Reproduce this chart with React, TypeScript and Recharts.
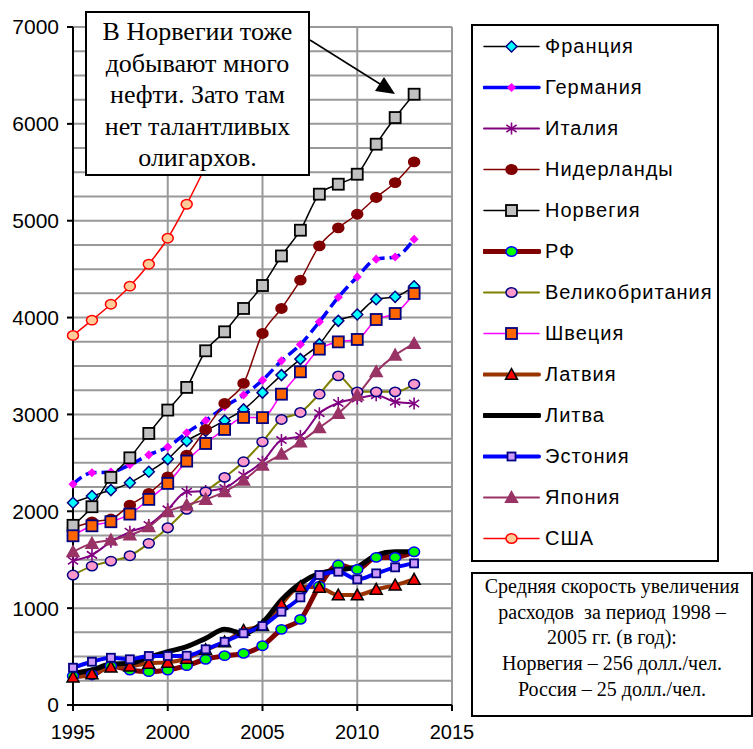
import React from 'react'
import { CartesianGrid, Line, LineChart, XAxis, YAxis } from 'recharts'

const years = [1995, 1996, 1997, 1998, 1999, 2000, 2001, 2002, 2003, 2004, 2005, 2006, 2007, 2008, 2009, 2010, 2011, 2012, 2013]

const france = [2088, 2157, 2219, 2294, 2408, 2539, 2725, 2830, 2936, 3052, 3225, 3406, 3571, 3726, 3966, 4032, 4190, 4214, 4324]
const germany = [2280, 2398, 2405, 2480, 2583, 2663, 2811, 2936, 3080, 3200, 3354, 3553, 3722, 3956, 4210, 4420, 4603, 4626, 4809]
const italy = [1490, 1550, 1685, 1788, 1858, 2020, 2201, 2210, 2240, 2373, 2511, 2735, 2778, 3013, 3118, 3165, 3199, 3130, 3113]
const netherlands = [1830, 1890, 1920, 2064, 2185, 2356, 2580, 2845, 3113, 3320, 3836, 4094, 4386, 4740, 4926, 5067, 5240, 5394, 5607]
const norway = [1855, 2047, 2350, 2552, 2804, 3045, 3279, 3657, 3853, 4094, 4331, 4636, 4902, 5274, 5377, 5480, 5790, 6065, 6306]
const rf = [299, 310, 402, 361, 344, 361, 406, 472, 509, 533, 612, 781, 884, 1228, 1445, 1400, 1524, 1524, 1582]
const uk = [1342, 1434, 1486, 1541, 1669, 1830, 2020, 2201, 2350, 2511, 2717, 2948, 3020, 3209, 3398, 3233, 3233, 3233, 3313]
const sweden = [1747, 1850, 1892, 1971, 2123, 2288, 2518, 2700, 2845, 2969, 2967, 3209, 3440, 3674, 3749, 3774, 3980, 4042, 4249]
const latvia = [288, 320, 390, 400, 430, 440, 480, 570, 650, 770, 820, 1040, 1221, 1214, 1135, 1135, 1194, 1238, 1297]
const lithuania = [327, 361, 423, 430, 492, 550, 602, 688, 781, 740, 850, 1084, 1256, 1359, 1393, 1428, 1548, 1582, 1582]
const estonia = [385, 447, 488, 472, 506, 506, 509, 575, 653, 740, 815, 963, 1111, 1342, 1376, 1297, 1359, 1421, 1462]
const japan = [1582, 1669, 1703, 1755, 1840, 1995, 2064, 2123, 2201, 2320, 2475, 2590, 2717, 2862, 3010, 3199, 3440, 3612, 3732]
const usa = [3815, 3973, 4138, 4324, 4551, 4819, 5170, 5560, 5950, 6300, 6650, 7040, 7400, null, null, null, null, null, null]

const yTicks = [0, 1000, 2000, 3000, 4000, 5000, 6000, 7000]
const xTicks = [1995, 2000, 2005, 2010, 2015]
const gridValues = [250, 500, 750, 1000, 1250, 1500, 1750, 2000, 2250, 2500, 2750, 3000, 3250, 3500, 3750, 4000, 4250, 4500, 4750, 5000, 5250, 5500, 5750, 6000, 6250, 6500, 6750, 7000]

const noteTop = ['В Норвегии тоже', 'добывают много', 'нефти. Зато там', 'нет талантливых', 'олигархов.']
const noteBottom = ['Средняя скорость увеличения', 'расходов  за период 1998 –', '2005 гг. (в год):', 'Норвегия – 256 долл./чел.', 'Россия – 25 долл./чел.']

type Shape = 'diamond' | 'square' | 'circle' | 'triangle' | 'star' | 'none'

interface Series {
  key: string
  name: string
  values: (number | null)[]
  color: string
  width: number
  dash?: string
  shape: Shape
  fill: string
  edge: string
  size: number
}

const series: Series[] = [
  { key: 'france', name: 'Франция', values: france, color: '#000000', width: 1.5, shape: 'diamond', fill: '#00FFFF', edge: '#000080', size: 5.5 },
  { key: 'germany', name: 'Германия', values: germany, color: '#0000FF', width: 3.5, dash: '11 5', shape: 'diamond', fill: '#FF00FF', edge: '#FF00FF', size: 3.5 },
  { key: 'italy', name: 'Италия', values: italy, color: '#800080', width: 2, shape: 'star', fill: '#800080', edge: '#800080', size: 6 },
  { key: 'netherlands', name: 'Нидерланды', values: netherlands, color: '#800000', width: 1.5, shape: 'circle', fill: '#800000', edge: '#800000', size: 5.5 },
  { key: 'norway', name: 'Норвегия', values: norway, color: '#000000', width: 1.5, shape: 'square', fill: '#C0C0C0', edge: '#000000', size: 5.5 },
  { key: 'rf', name: 'РФ', values: rf, color: '#800000', width: 5, shape: 'circle', fill: '#00FF00', edge: '#0000FF', size: 5.5 },
  { key: 'uk', name: 'Великобритания', values: uk, color: '#808000', width: 2, shape: 'circle', fill: '#FF99CC', edge: '#000080', size: 5.5 },
  { key: 'sweden', name: 'Швеция', values: sweden, color: '#FF00FF', width: 1.5, shape: 'square', fill: '#FF6600', edge: '#000080', size: 5.5 },
  { key: 'latvia', name: 'Латвия', values: latvia, color: '#993300', width: 4, shape: 'triangle', fill: '#FF0000', edge: '#000000', size: 6 },
  { key: 'lithuania', name: 'Литва', values: lithuania, color: '#000000', width: 5, shape: 'none', fill: 'none', edge: 'none', size: 0 },
  { key: 'estonia', name: 'Эстония', values: estonia, color: '#0000FF', width: 4, shape: 'square', fill: '#CC99FF', edge: '#000080', size: 4 },
  { key: 'japan', name: 'Япония', values: japan, color: '#993366', width: 2, shape: 'triangle', fill: '#993366', edge: '#993366', size: 6 },
  { key: 'usa', name: 'США', values: usa, color: '#FF0000', width: 1.5, shape: 'circle', fill: '#FFCC99', edge: '#FF0000', size: 5.5 },
]

const data = years.map((year, i) => {
  const row: Record<string, number | null> = { year }
  series.forEach((s) => {
    row[s.key] = s.values[i]
  })
  return row
})

const Marker = ({ s, x, y }: { s: Series; x: number; y: number }) => {
  const r = s.size
  switch (s.shape) {
    case 'diamond':
      return <polygon points={`${x},${y - r} ${x + r},${y} ${x},${y + r} ${x - r},${y}`} fill={s.fill} stroke={s.edge} strokeWidth={1.5} />
    case 'square':
      return <rect x={x - r} y={y - r} width={r * 2} height={r * 2} fill={s.fill} stroke={s.edge} strokeWidth={1.8} />
    case 'circle':
      return <ellipse cx={x} cy={y} rx={r} ry={r * 0.85} fill={s.fill} stroke={s.edge} strokeWidth={1.5} />
    case 'triangle':
      return <polygon points={`${x},${y - r} ${x + r},${y + r * 0.8} ${x - r},${y + r * 0.8}`} fill={s.fill} stroke={s.edge} strokeWidth={1.5} />
    case 'star':
      return (
        <path
          d={`M${x},${y - r}L${x},${y + r}M${x - r * 0.85},${y - r * 0.6}L${x + r * 0.85},${y + r * 0.6}M${x - r * 0.85},${y + r * 0.6}L${x + r * 0.85},${y - r * 0.6}`}
          stroke={s.edge}
          strokeWidth={1.6}
          fill="none"
        />
      )
    default:
      return null
  }
}

const dotFor = (s: Series) => (props: any) => {
  const { cx, cy, index } = props
  if (cx == null || cy == null || s.values[index] == null) return <g key={`${s.key}-${index}`} />
  return (
    <g key={`${s.key}-${index}`}>
      <Marker s={s} x={cx} y={cy} />
    </g>
  )
}

const sans = '"Liberation Sans", Arial, sans-serif'
const serif = '"Liberation Serif", "Times New Roman", serif'

const App = () => {
  return (
    <div style={{ position: 'absolute', left: 0, top: 0, width: 753, height: 749, background: '#fff' }}>
      <LineChart width={753} height={749} data={data} margin={{ top: 27, right: 301, bottom: 6, left: 0 }}>
        <CartesianGrid stroke="#999999" strokeWidth={2} horizontalValues={gridValues} verticalValues={xTicks} />
        <XAxis
          dataKey="year"
          type="number"
          domain={[1995, 2015]}
          ticks={xTicks}
          height={38}
          tickSize={6}
          tickMargin={14}
          axisLine={{ stroke: '#000', strokeWidth: 2 }}
          tickLine={{ stroke: '#000', strokeWidth: 2 }}
          tick={{ fill: '#000', fontSize: 20, fontFamily: sans }}
        />
        <YAxis
          type="number"
          domain={[0, 7000]}
          ticks={yTicks}
          allowDataOverflow
          width={73}
          tickSize={6}
          tickMargin={8}
          axisLine={{ stroke: '#000', strokeWidth: 2 }}
          tickLine={{ stroke: '#000', strokeWidth: 2 }}
          tick={{ fill: '#000', fontSize: 21, fontFamily: sans }}
        />
        {series.map((s) => (
          <Line
            key={`line-${s.key}`}
            type="monotone"
            dataKey={s.key}
            stroke={s.color}
            strokeWidth={s.width}
            strokeDasharray={s.dash}
            dot={false}
            activeDot={false}
            isAnimationActive={false}
            legendType="none"
          />
        ))}
        {series
          .filter((s) => s.shape !== 'none')
          .map((s) => (
            <Line
              key={`dots-${s.key}`}
              type="monotone"
              dataKey={s.key}
              stroke="none"
              dot={dotFor(s)}
              activeDot={false}
              isAnimationActive={false}
              legendType="none"
            />
          ))}
      </LineChart>

      {/* callout about Norway */}
      <div
        style={{
          position: 'absolute',
          left: 85,
          top: 11,
          width: 221,
          height: 158,
          border: '2px solid #000',
          background: '#fff',
          fontFamily: serif,
          fontSize: 26,
          lineHeight: '31.5px',
          textAlign: 'center',
          paddingTop: 3,
          boxSizing: 'content-box',
          whiteSpace: 'nowrap',
        }}
      >
        {noteTop.map((t) => (
          <div key={t}>{t}</div>
        ))}
      </div>
      <svg style={{ position: 'absolute', left: 0, top: 0 }} width={753} height={749}>
        <line x1={310} y1={40} x2={380} y2={84} stroke="#000" strokeWidth={1.5} />
        <polygon points="395,94 375,91 384,77" fill="#000" />
      </svg>

      {/* legend */}
      <div
        style={{
          position: 'absolute',
          left: 471,
          top: 24,
          width: 244,
          height: 534,
          border: '2px solid #000',
          background: '#fff',
          fontFamily: sans,
          fontSize: 20,
        }}
      >
        {series.map((s, i) => (
          <div key={s.key} style={{ position: 'absolute', left: 0, top: 41 * i, height: 41, width: 244 }}>
            <svg style={{ position: 'absolute', left: 10, top: 0 }} width={58} height={41}>
              <line x1={1} y1={20.5} x2={56} y2={20.5} stroke={s.color} strokeWidth={s.width} strokeLinecap="round" />
              <Marker s={s} x={28.5} y={20.5} />
            </svg>
            <div style={{ position: 'absolute', left: 72, top: 0, lineHeight: '41px', letterSpacing: 1, whiteSpace: 'nowrap' }}>{s.name}</div>
          </div>
        ))}
      </div>

      {/* average growth note */}
      <div
        style={{
          position: 'absolute',
          left: 471,
          top: 572,
          width: 278,
          height: 141,
          border: '2px solid #000',
          background: '#fff',
          fontFamily: serif,
          fontSize: 20,
          lineHeight: '25.7px',
          textAlign: 'center',
        }}
      >
        {noteBottom.map((t) => (
          <div key={t} style={{ whiteSpace: 'pre' }}>{t}</div>
        ))}
      </div>
    </div>
  )
}

export default App
